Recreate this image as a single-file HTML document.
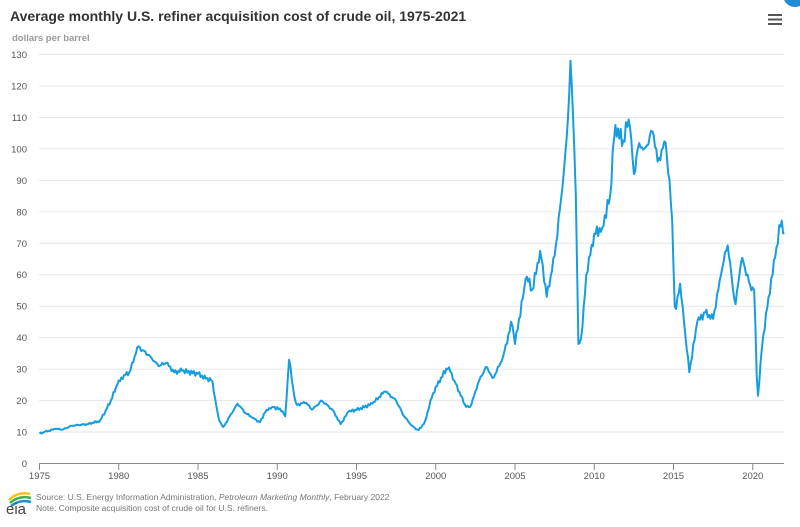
<!DOCTYPE html>
<html><head><meta charset="utf-8"><style>
body{margin:0;background:#fff;font-family:"Liberation Sans",sans-serif}
svg text{font-family:"Liberation Sans",sans-serif}
</style></head><body>
<svg id="s" width="800" height="522" xmlns="http://www.w3.org/2000/svg">
<rect width="800" height="522" fill="#fff"/>
<text x="10" y="21" font-size="14" font-weight="bold" fill="#333">Average monthly U.S. refiner acquisition cost of crude oil, 1975-2021</text>
<text x="12" y="41" font-size="9.5" font-weight="bold" fill="#999">dollars per barrel</text>
<g stroke="#555" stroke-width="2"><line x1="768" y1="15" x2="782" y2="15"/><line x1="768" y1="19.5" x2="782" y2="19.5"/><line x1="768" y1="24" x2="782" y2="24"/></g>
<circle cx="795" cy="-5" r="12" fill="#1e8bd6"/>
<g id="grid"></g>
<line x1="39" y1="463.5" x2="784" y2="463.5" stroke="#888" stroke-width="1"/>
<g id="xt"></g>
<polyline id="line" fill="none" stroke="#169de0" stroke-width="2" stroke-linejoin="round"/>
<g>
<path d="M9 500 Q18 491 30 494" stroke="#f7c21a" stroke-width="2.5" fill="none"/>
<path d="M10 503 Q19 495 31 498" stroke="#3ab54a" stroke-width="2.5" fill="none"/>
<path d="M11 506 Q20 499 31 502" stroke="#1e8bd6" stroke-width="2.5" fill="none"/>
<text x="6" y="514" font-size="15" fill="#444" font-family="Liberation Serif">eia</text>
</g>
<text x="36" y="500" font-size="8.5" fill="#777">Source: U.S. Energy Information Administration, <tspan font-style="italic">Petroleum Marketing Monthly</tspan>, February 2022</text>
<text x="36" y="511" font-size="8.5" fill="#777">Note: Composite acquisition cost of crude oil for U.S. refiners.</text>
</svg>
<script>
var NS="http://www.w3.org/2000/svg";
function Y(v){return 463.5-v*3.146;}
function X(y){return 39.5+(y-1975)*15.85;}
var g=document.getElementById('grid');
for(var v=0;v<=130;v+=10){
 if(v>0){var l=document.createElementNS(NS,'line');l.setAttribute('x1',39);l.setAttribute('x2',784);l.setAttribute('y1',Y(v));l.setAttribute('y2',Y(v));l.setAttribute('stroke','#e6e6e6');g.appendChild(l);}
 var t=document.createElementNS(NS,'text');t.setAttribute('x',27);t.setAttribute('y',Y(v)+3.5);t.setAttribute('font-size','9.5');t.setAttribute('fill','#555');t.setAttribute('text-anchor','end');t.textContent=v;g.appendChild(t);
}
var xt=document.getElementById('xt');
for(var y=1975;y<=2020;y+=5){
 var l=document.createElementNS(NS,'line');l.setAttribute('x1',X(y));l.setAttribute('x2',X(y));l.setAttribute('y1',463);l.setAttribute('y2',470);l.setAttribute('stroke','#888');xt.appendChild(l);
 var t=document.createElementNS(NS,'text');t.setAttribute('x',X(y));t.setAttribute('y',479);t.setAttribute('font-size','9.5');t.setAttribute('fill','#555');t.setAttribute('text-anchor','middle');t.textContent=y;xt.appendChild(t);
}
var d=[1975,9.5,1975.3,10,1976,11,1976.5,10.8,1977,12,1978,12.5,1978.8,13.5,1979.2,17,1979.5,20,1979.9,25,1980.3,28,1980.7,29,1981.0,34,1981.2,37.5,1981.5,36,1982,34,1982.5,31,1983,32,1983.5,29,1984,29.5,1985,28.5,1985.5,27,1985.9,26.5,1986.1,20,1986.3,14,1986.6,11.5,1987,15,1987.5,19,1988,16,1988.5,14.5,1988.9,13,1989.3,17,1989.7,18,1990.3,17,1990.5,15,1990.75,33,1991,24,1991.2,18.5,1991.8,19.5,1992.2,17,1992.8,20,1993.5,17,1994,12.5,1994.5,16.5,1995,17,1996,19,1996.8,23,1997.5,20,1998,15,1998.5,12,1998.9,10.5,1999.3,13,1999.8,22,2000.3,27,2000.8,31,2001.2,26,2001.9,18,2002.2,18,2002.7,26,2003.2,31,2003.6,27,2004.2,33,2004.8,45,2005.0,38,2005.6,56,2005.7,60,2006.1,55,2006.6,68,2007.0,53,2007.5,66,2008.0,88,2008.3,105,2008.5,128,2008.8,95,2009.0,38,2009.2,40,2009.5,60,2010.0,73,2010.5,75,2011.0,85,2011.3,108,2011.8,102,2012.2,110,2012.5,92,2012.8,102,2013.2,100,2013.7,106,2014.0,96,2014.5,102,2014.9,80,2015.1,47,2015.4,58,2015.7,43,2016.0,29,2016.5,45,2017.0,48,2017.5,46,2018.0,60,2018.4,70,2018.9,50,2019.3,66,2019.8,57,2020.1,55,2020.3,19.5,2020.6,38,2021.0,53,2021.4,65,2021.8,78,2022,73];
var p=[],k=0;
for(var t=1975;t<=2022.001;t+=1/12){
 while(k<d.length-4&&d[k+2]<t)k+=2;
 var a=d[k],b=d[k+2],f=Math.max(0,Math.min(1,(t-a)/(b-a)));
 var v=d[k+1]+(d[k+3]-d[k+1])*f;
 var n=(Math.sin(t*37.1)+Math.sin(t*91.7)*0.6)*v*0.018;
 var near=Math.min(Math.abs(t-a),Math.abs(t-b));
 if(near<0.05)n=0;
 p.push(X(t).toFixed(1)+','+Y(v+n).toFixed(1));
}
document.getElementById('line').setAttribute('points',p.join(' '));
</script>
</body></html>
